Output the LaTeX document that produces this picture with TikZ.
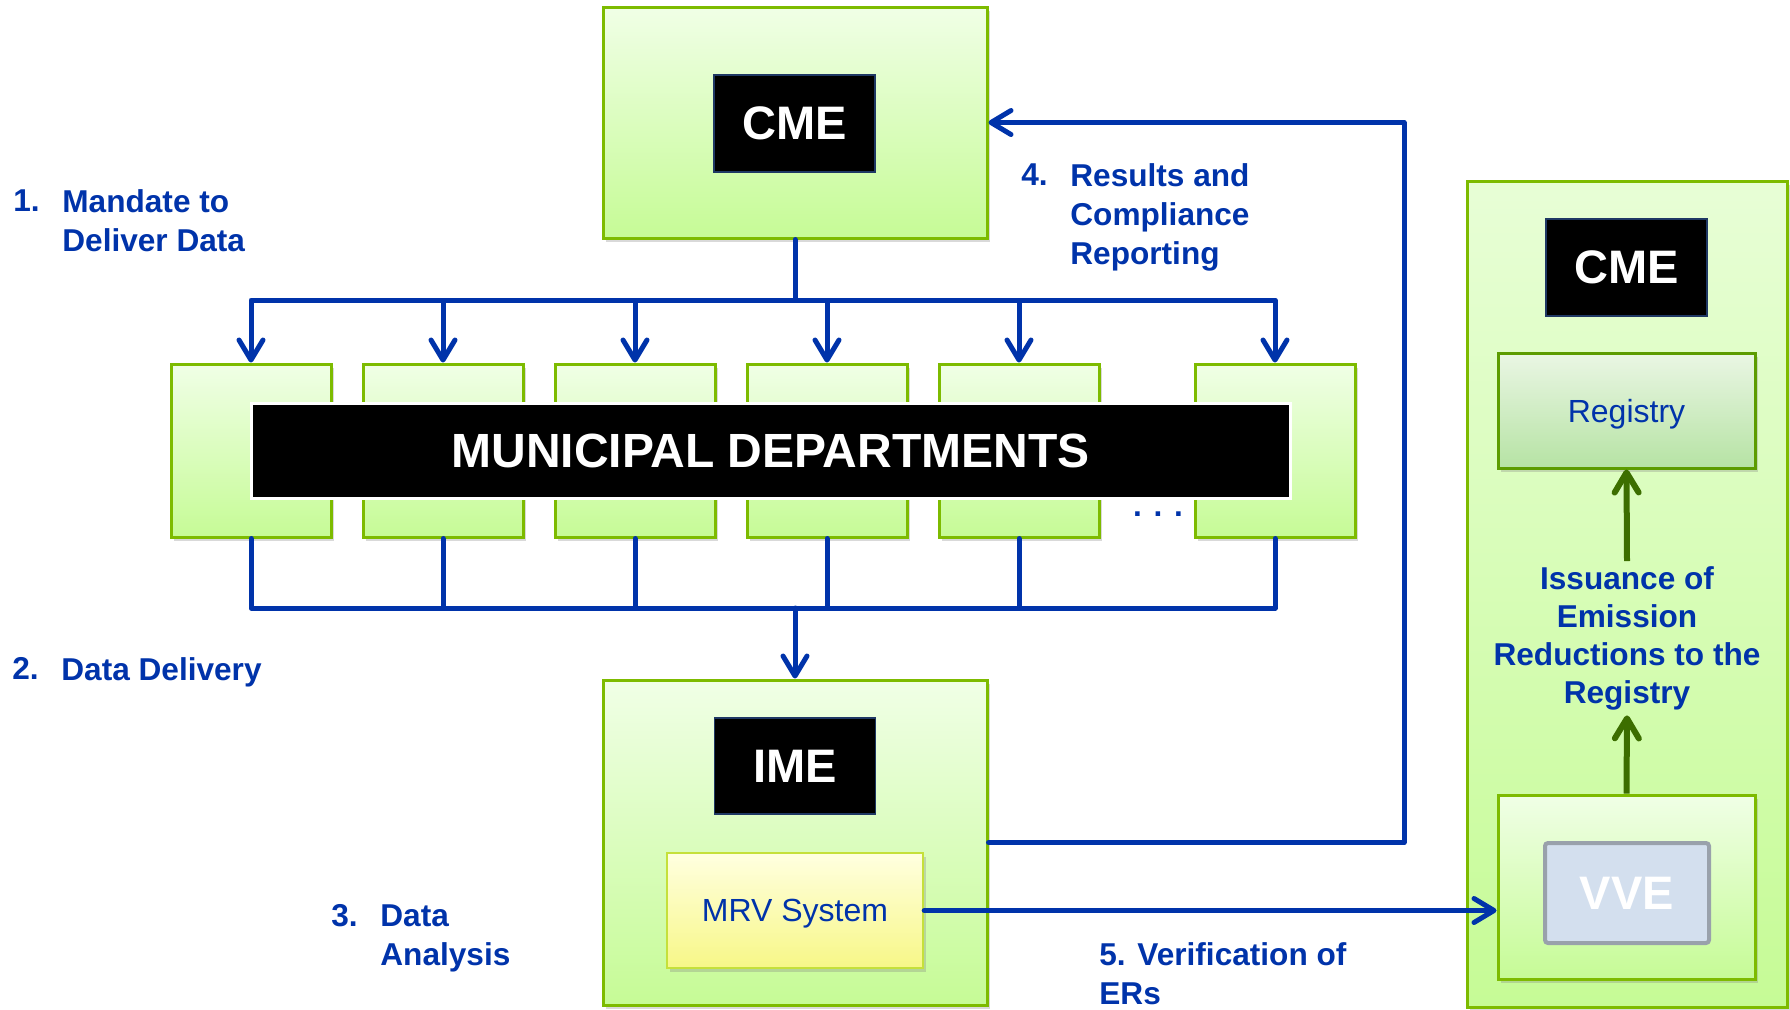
\documentclass[tikz,border=0pt]{standalone}
\usepackage{fontspec}
\setmainfont{Liberation Sans}
\usetikzlibrary{arrows.meta,positioning,shadows}
\definecolor{flowblue}{HTML}{0033AA}
\definecolor{leafline}{HTML}{7DBB00}
\definecolor{leaftop}{HTML}{F0FFE6}
\definecolor{leafbot}{HTML}{C6FB96}
\definecolor{regline}{HTML}{5C9C00}
\definecolor{regtop}{HTML}{EAF6E4}
\definecolor{regbot}{HTML}{B6E3A4}
\definecolor{mrvline}{HTML}{C5E03A}
\definecolor{mrvtop}{HTML}{FFFFE0}
\definecolor{mrvbot}{HTML}{F7F787}
\definecolor{vvefill}{HTML}{D3DFEE}
\definecolor{vveline}{HTML}{99A1AB}
\definecolor{issuegreen}{HTML}{3C6E00}
\definecolor{tagline}{HTML}{1F3864}
\tikzset{panel/.style={draw=leafline,line width=1.5pt,top color=leaftop,bottom color=leafbot,
  inner sep=0pt,drop shadow={shadow xshift=1.5pt,shadow yshift=-2pt,opacity=.3}},
  tag/.style={draw=tagline,line width=.6pt,fill=black,text=white,inner sep=0pt,
  font=\bfseries\fontsize{23.5}{28}\selectfont},
  flow/.style={draw=flowblue,line width=2.5pt,line join=round,line cap=round},
  tip/.style={-{Straight Barb[length=10pt,width=12pt,round]}},
  numlabel/.style={text=flowblue,inner sep=0pt,font=\bfseries\fontsize{15.8}{19.5}\selectfont},
  boxtext/.style={text=flowblue,text depth=0pt,font=\fontsize{16}{19.5}\selectfont}}

\begin{document}
\begin{tikzpicture}[x=0.5pt,y=-0.5pt]
 \useasboundingbox (0,0) rectangle (1790,1009);
 % top CME
 \node[panel,minimum width=192pt,minimum height=115.5pt] (cme) at (795,122.5) {};
 \node[tag,minimum width=80.5pt,minimum height=48.5pt] (cmetag) at (794.5,123.5) {CME};
 % departments
 \foreach \x [count=\i] in {251,443,635,827,1019,1275}
  \node[panel,minimum width=80pt,minimum height=86.5pt] (d\i) at (\x,450.5) {};
 \node[fill=black,draw=white,line width=1.5pt,text=white,minimum width=519.5pt,
  minimum height=47.5pt,text depth=0pt,font=\bfseries\fontsize{24}{28}\selectfont] (munic)
  at (770.5,450.5) {MUNICIPAL DEPARTMENTS};
 \node[numlabel] (dots) at (1158,514) {. . .};
 % IME
 \node[panel,minimum width=192pt,minimum height=162.5pt] (ime) at (795,842.5) {};
 \node[tag,minimum width=80.5pt,minimum height=48pt] (imetag) at (795,766) {IME};
 \node[boxtext,draw=mrvline,line width=1.2pt,top color=mrvtop,bottom color=mrvbot,
  minimum width=128pt,minimum height=57.5pt,
  drop shadow={shadow xshift=1.5pt,shadow yshift=-2pt,opacity=.3}] (mrv)
  at (795,910.5) {MRV System};
 % right panel
 \node[panel,top color=leaftop!80!leafbot,minimum width=160pt,minimum height=413pt] (side) at (1627,594) {};
 \node[tag,minimum width=80.5pt,minimum height=48.5pt] (cmetag2) at (1626.5,267.5) {CME};
 \node[boxtext,draw=regline,line width=1.5pt,top color=regtop,bottom color=regbot,
  minimum width=128.5pt,minimum height=57.5pt,
  drop shadow={shadow xshift=1.5pt,shadow yshift=-2pt,opacity=.3}] (registry)
  at (1626.5,410.5) {Registry};
 \node[panel,minimum width=128.5pt,minimum height=92pt] (vvebox) at (1626.5,887) {};
 \node[draw=vveline,line width=2pt,fill=vvefill,rounded corners=1.5pt,text=white,
  minimum width=82pt,minimum height=50pt,font=\bfseries\fontsize{23.5}{28}\selectfont]
  (vve) at (1627,893) {VVE};
 \node[numlabel,align=center,anchor=north,inner ysep=2.5pt,
  font=\bfseries\fontsize{15.8}{19}\selectfont] (issue) at (1627,561)
  {Issuance of\\Emission\\Reductions to the\\Registry};
 % step labels
 \node[numlabel,anchor=north west] (n1) at (13,189) {1.};
 \node[numlabel,anchor=north west,align=left] (t1) at (62,189) {Mandate to\\Deliver Data};
 \node[numlabel,anchor=north west] (n2) at (12,657) {2.};
 \node[numlabel,anchor=north west] (t2) at (61,657) {Data Delivery};
 \node[numlabel,anchor=north west] (n3) at (331,904) {3.};
 \node[numlabel,anchor=north west,align=left] (t3) at (380,904) {Data\\Analysis};
 \node[numlabel,anchor=north west] (n4) at (1021,163) {4.};
 \node[numlabel,anchor=north west,align=left] (t4) at (1070,163) {Results and\\Compliance\\Reporting};
 \node[numlabel,anchor=north west,align=left] (t5) at (1099,942) {5. Verification of\\ERs};
 % connectors
 \coordinate (bustop) at (795,300);
 \coordinate (busbot) at (795,608);
 \coordinate (fbturn) at (1404,122.5);
 \draw[flow] (cme.south) -- (bustop);
 \foreach \i in {1,...,6} {
  \draw[flow,tip] (bustop) -| (d\i.north);
  \draw[flow] (d\i.south) |- (busbot);
 }
 \draw[flow,tip] (busbot) -- (ime.north);
 \draw[flow,tip] (ime.east) -| (fbturn) -- (cme.east);
 \draw[flow,tip] (mrv.east) -- (mrv.east -| vvebox.west);
 \draw[draw=issuegreen,line width=3pt,tip] (vvebox.north) -- (issue.south);
 \draw[draw=issuegreen,line width=3pt,tip] (issue.north) -- (registry.south);
\end{tikzpicture}
\end{document}
